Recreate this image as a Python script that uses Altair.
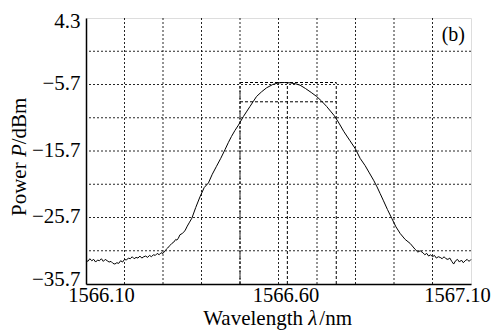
import altair as alt
import pandas as pd

# ---- spectrum data ----
wavelength = [
    1566.100, 1566.105, 1566.110, 1566.115, 1566.120, 1566.125, 1566.130, 1566.135, 1566.140, 1566.145,
    1566.150, 1566.155, 1566.160, 1566.165, 1566.170, 1566.175, 1566.180, 1566.185, 1566.190, 1566.195,
    1566.200, 1566.205, 1566.210, 1566.215, 1566.220, 1566.225, 1566.230, 1566.235, 1566.240, 1566.245,
    1566.250, 1566.255, 1566.260, 1566.265, 1566.270, 1566.275, 1566.280, 1566.285, 1566.290, 1566.295,
    1566.300, 1566.305, 1566.312, 1566.318, 1566.323, 1566.328, 1566.333, 1566.336, 1566.340, 1566.344,
    1566.350, 1566.357, 1566.363, 1566.369, 1566.375, 1566.385, 1566.396, 1566.407, 1566.418, 1566.428,
    1566.439, 1566.450, 1566.461, 1566.470, 1566.478, 1566.487, 1566.496, 1566.509, 1566.518, 1566.526,
    1566.535, 1566.543, 1566.556, 1566.569, 1566.585, 1566.600, 1566.615, 1566.630, 1566.645, 1566.656,
    1566.670, 1566.685, 1566.699, 1566.712, 1566.725, 1566.735, 1566.745, 1566.757, 1566.770, 1566.785,
    1566.800, 1566.812, 1566.825, 1566.836, 1566.847, 1566.856, 1566.864, 1566.872, 1566.883, 1566.894,
    1566.905, 1566.916, 1566.929, 1566.942, 1566.955, 1566.962, 1566.968, 1566.975, 1566.980, 1566.985,
    1566.990, 1566.995, 1567.000, 1567.005, 1567.010, 1567.015, 1567.020, 1567.025, 1567.030, 1567.035,
    1567.040, 1567.045, 1567.050, 1567.055, 1567.060, 1567.065, 1567.070, 1567.075, 1567.080, 1567.085,
    1567.090, 1567.095, 1567.100,
]
power = [
    -32.1, -32.3, -31.9, -32.2, -32.0, -32.4, -32.1, -32.2, -31.9, -32.3,
    -32.0, -32.2, -32.4, -32.3, -32.6, -32.7, -32.5, -32.6, -32.2, -32.4,
    -32.0, -32.1, -31.8, -31.9, -31.6, -31.9, -31.7, -31.8, -31.5, -31.8,
    -31.6, -31.5, -31.7, -31.4, -31.6, -31.3, -31.4, -31.1, -31.3, -31.0,
    -31.1, -30.7, -30.3, -29.9, -29.6, -29.4, -29.0, -29.1, -28.8, -28.3,
    -28.1, -27.7, -27.0, -26.4, -25.8, -24.2, -22.6, -21.2, -20.5, -19.2,
    -18.0, -16.8, -15.5, -14.4, -13.5, -12.6, -11.8, -10.5, -9.7, -9.0,
    -8.2, -7.5, -6.8, -6.2, -5.7, -5.45, -5.4, -5.45, -5.6, -5.8,
    -6.3, -6.9, -7.5, -8.2, -9.0, -9.7, -10.4, -11.5, -12.8, -14.1,
    -15.4, -16.8, -17.9, -19.0, -20.1, -21.1, -22.1, -23.1, -24.5, -25.8,
    -27.1, -28.1, -29.0, -29.6, -30.5, -30.9, -30.7, -31.0, -31.3, -31.1,
    -31.5, -31.3, -31.6, -31.4, -31.8, -31.6, -31.7, -31.9, -31.6, -31.9,
    -32.0, -31.8, -32.3, -32.7, -32.2, -32.0, -32.4, -32.1, -32.5, -32.2,
    -32.0, -32.3, -32.0,
]

# ---- bandwidth marker lines ----
marker_x = [1566.50, 1566.623, 1566.75]
marker_y = [-5.4, -8.3]
marker_y_bottom = -35.7
marker_x_left = 1566.50
marker_x_right = 1566.75

# ---- axes ----
x_domain = [1566.10, 1567.10]
y_domain = [-35.7, 4.3]
x_grid = [1566.20, 1566.30, 1566.40, 1566.50, 1566.60, 1566.70, 1566.80, 1566.90, 1567.00]
x_labeled = [1566.10, 1566.60, 1567.10]
y_grid = [-0.7, -5.7, -10.7, -15.7, -20.7, -25.7, -30.7]
y_labeled = [4.3, -5.7, -15.7, -25.7, -35.7]
panel_tag = "(b)"

# axis titles, split so the symbols can be italic
x_title_parts = ["Wavelength", "λ", "/nm"]
y_title_parts = ["Power ", "P", "/dBm"]

FONT = "Liberation Serif"
TFS = 21  # title font size

df = pd.DataFrame({"wl": wavelength, "p": power})
vdf = pd.DataFrame({"x": marker_x, "y1": [marker_y_bottom] * len(marker_x), "y2": [marker_y[0]] * len(marker_x)})
hdf = pd.DataFrame({"y": marker_y, "x1": [marker_x_left] * len(marker_y), "x2": [marker_x_right] * len(marker_y)})
xg = pd.DataFrame({"x": x_grid})
yg = pd.DataFrame({"y": y_grid})

xscale = alt.Scale(domain=x_domain, nice=False, zero=False)
yscale = alt.Scale(domain=y_domain, nice=False, zero=False)

x_axis = alt.Axis(
    values=x_labeled, format=".2f", title="", grid=False,
    ticks=False, tickSize=0, labelPadding=1.5, labelFontSize=20.5, labelFont=FONT, labelColor="#000",
    labelOffset=alt.ExprRef(expr="datum.value < 1566.2 ? 15 : (datum.value > 1567.0 ? -14 : 7)"),
    labelFlush=False, labelOverlap=False, labelBound=False,
    domainColor="#000", domainWidth=1.5,
)
y_axis = alt.Axis(
    values=y_labeled, format=".1f", title="", grid=False,
    ticks=False, tickSize=0, labelPadding=6, labelFontSize=21, labelFont=FONT, labelColor="#000",
    labelOffset=alt.ExprRef(expr="datum.value < -35 ? -5 : (datum.value > 4 ? 3 : -1)"),
    labelFlush=False, labelOverlap=False, labelBound=False,
    domainColor="#000", domainWidth=1.5,
)

grid_style = dict(color="#000", strokeWidth=1, strokeDash=[2, 2], opacity=0.85)

xgrid = alt.Chart(xg).mark_rule(**grid_style).encode(
    x=alt.X("x:Q", scale=xscale, axis=x_axis)
)
ygrid = alt.Chart(yg).mark_rule(**grid_style).encode(
    y=alt.Y("y:Q", scale=yscale, axis=y_axis)
)

line = alt.Chart(df).mark_line(color="#000", strokeWidth=1).encode(
    x=alt.X("wl:Q", scale=xscale),
    y=alt.Y("p:Q", scale=yscale),
)

vrules = alt.Chart(vdf).mark_rule(color="#000", strokeWidth=1, strokeDash=[3, 2]).encode(
    x=alt.X("x:Q", scale=xscale),
    y=alt.Y("y1:Q", scale=yscale),
    y2="y2:Q",
)
hrules = alt.Chart(hdf).mark_rule(color="#000", strokeWidth=1, strokeDash=[3, 2]).encode(
    y=alt.Y("y:Q", scale=yscale),
    x=alt.X("x1:Q", scale=xscale),
    x2="x2:Q",
)

tag = alt.Chart(pd.DataFrame({"t": [panel_tag]})).mark_text(
    font=FONT, fontSize=20, color="#000", align="right", baseline="middle"
).encode(text="t:N", x=alt.value(379), y=alt.value(17))


def label_text(text, x, y, align, style="normal", angle=0):
    return alt.Chart(pd.DataFrame({"t": [text]})).mark_text(
        font=FONT, fontSize=TFS, color="#000", align=align, baseline="alphabetic" if angle == 0 else "middle",
        fontStyle=style, angle=angle,
    ).encode(text="t:N", x=alt.value(x), y=alt.value(y))


# x title: "Wavelength λ/nm" centred near x=277 (absolute), baseline at ~324
xt1 = label_text(x_title_parts[0], 217, 306.5, "right")
xt2 = label_text(x_title_parts[1], 222.3, 306.5, "left", style="italic")
xt3 = label_text(x_title_parts[2], 266, 306.5, "right")
# y title: rotated, reading upward, centred near y=156 (absolute)
yt1 = label_text(y_title_parts[0], -66, 198, "left", angle=270)
yt2 = label_text(y_title_parts[1], -66, 139.1, "left", style="italic", angle=270)
yt3 = label_text(y_title_parts[2], -66, 126.3, "left", angle=270)

chart = alt.layer(xgrid, ygrid, line, vrules, hrules, tag, xt1, xt2, xt3, yt1, yt2, yt3).properties(
    width=385, height=266,
    autosize=alt.AutoSizeParams(type="none"),
    padding={"left": 86, "top": 18, "right": 21, "bottom": 47},
).configure_view(stroke="#000", strokeWidth=1).configure(background="white")

chart.save("out.html", embed_options={"renderer": "svg", "actions": False})
